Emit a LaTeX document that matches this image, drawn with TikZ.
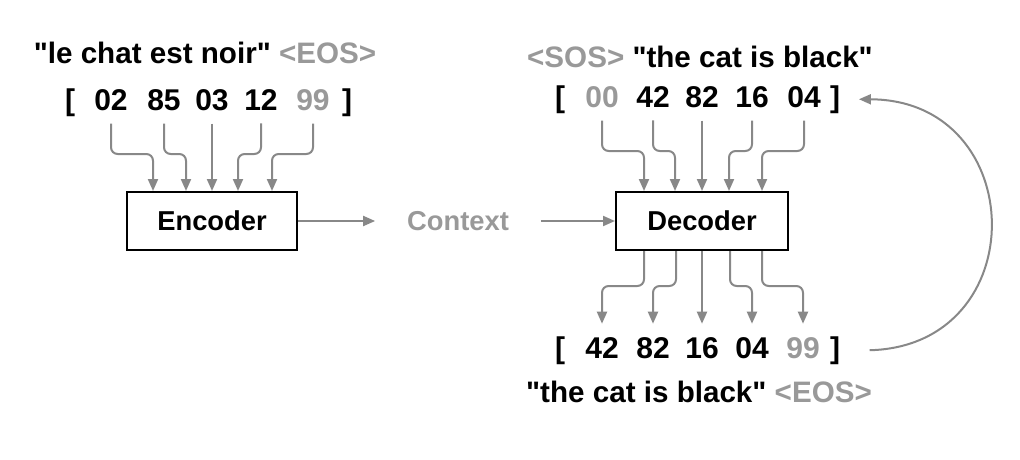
\documentclass[tikz,border=0pt]{standalone}
\usepackage{fontspec}
\setmainfont{Liberation Sans}
\usepackage{xcolor}
\usepackage{tikz}
\usetikzlibrary{arrows.meta,calc}
\definecolor{tokgray}{HTML}{999999}
\definecolor{wiregray}{HTML}{888888}
\newcommand{\qq}[1]{\textquotedbl#1\textquotedbl}

\begin{document}
\begin{tikzpicture}[x=0.75pt,y=-0.75pt,
  every node/.style={font=\fontsize{20.5}{24}\selectfont\bfseries},
  title/.style={anchor=base,font=\fontsize{22.2}{26}\selectfont\bfseries},
  tok/.style={anchor=base,inner sep=0pt,outer ysep=10pt,font=\fontsize{22.5}{26}\selectfont\bfseries},
  spec/.style={tok,text=tokgray},
  blk/.style={draw=black,line width=1.5pt,minimum height=43.5pt,inner sep=0pt},
  link/.style={draw=wiregray,line width=1.5pt,rounded corners=5pt,-{Triangle[length=9pt,width=7.5pt]}}]
\useasboundingbox (0,0) rectangle (1020,460);

% encoder side
\node[title] (srcTxt) at (205,64) {\qq{le chat est noir} \textcolor{tokgray}{<EOS>}};
\node[tok] (sl) at (70,110) {[};
\node[tok] (s1) at (111,110) {02};
\node[tok] (s2) at (164,110) {85};
\node[tok] (s3) at (212,110) {03};
\node[tok] (s4) at (261,110) {12};
\node[spec] (s5) at (313,110) {99};
\node[tok] (sr) at (347,110) {]};
\node[blk,minimum width=127.5pt] (enc) at (212,221) {Encoder};
\foreach \s/\dx in {s1/-59,s2/-26,s3/0,s4/26,s5/60}
  \draw[link] (\s.south) |- ($(enc.north)+(\dx,-37)$) -- ($(enc.north)+(\dx,0)$);

% context
\node[text=tokgray,inner sep=0pt,outer xsep=24pt] (ctx) at (458,221) {Context};
\draw[link] (enc) -- (ctx);

% decoder side
\node[title] (tgtTxt) at (700,68) {\textcolor{tokgray}{<SOS>} \qq{the cat is black}};
\node[tok] (tl) at (560,107) {[};
\node[spec] (t1) at (602,107) {00};
\node[tok] (t2) at (653,107) {42};
\node[tok] (t3) at (702,107) {82};
\node[tok] (t4) at (752,107) {16};
\node[tok] (t5) at (804,107) {04};
\node[tok] (tr) at (835,107) {]};
\node[blk,minimum width=129pt] (dec) at (702,221) {Decoder};
\draw[link] (ctx) -- (dec);
\foreach \s/\dx in {t1/-58,t2/-27,t3/0,t4/27,t5/60}
  \draw[link] (\s.south) |- ($(dec.north)+(\dx,-40)$) -- ($(dec.north)+(\dx,0)$);

% output
\node[tok] (ol) at (560,358) {[};
\node[tok] (o1) at (602,358) {42};
\node[tok] (o2) at (653,358) {82};
\node[tok] (o3) at (702,358) {16};
\node[tok] (o4) at (752,358) {04};
\node[spec] (o5) at (803,358) {99};
\node[tok] (or) at (835,358) {]};
\node[title] (outTxt) at (699,402) {\qq{the cat is black} \textcolor{tokgray}{<EOS>}};
\foreach \o/\dx in {o1/-58,o2/-26,o3/0,o4/28,o5/60}
  \draw[link] ($(dec.south)+(\dx,0)$) -- ($(dec.south)+(\dx,35)$) -| (\o.north);

% feed back
\draw[link] ([xshift=22pt]or.east) .. controls (1035,346) and (1030,100) .. ([xshift=14pt]tr.east);
\end{tikzpicture}
\end{document}
